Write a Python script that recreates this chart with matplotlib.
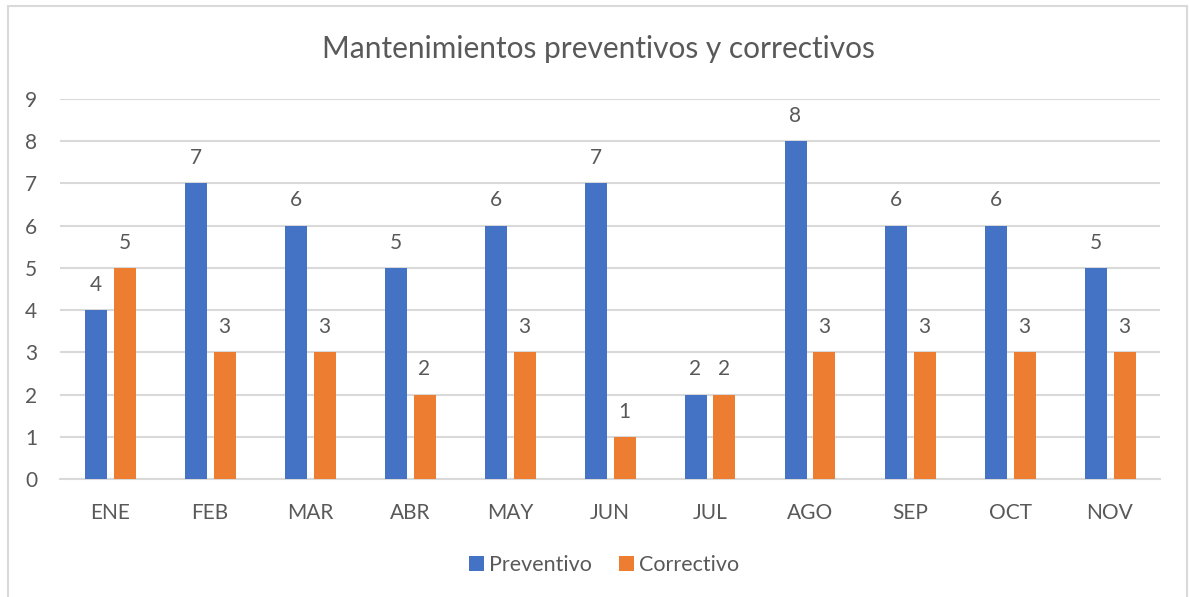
import matplotlib.pyplot as plt
import numpy as np
from matplotlib.patches import Rectangle

# Datos mensuales
meses = ["ENE", "FEB", "MAR", "ABR", "MAY", "JUN", "JUL", "AGO", "SEP", "OCT", "NOV"]
preventivo = [4, 7, 6, 5, 6, 7, 2, 8, 6, 6, 5]
correctivo = [5, 3, 3, 2, 3, 1, 2, 3, 3, 3, 3]

AZUL = "#4472C4"
NARANJA = "#ED7D31"
GRIS_TEXTO = "#595959"
GRIS_LINEA = "#D9D9D9"

plt.rcParams['font.family'] = ['Lato', 'DejaVu Sans']

fig = plt.figure(figsize=(11.89, 5.97), dpi=100)
ax = fig.add_axes([60 / 1189, 1 - 479 / 597, 1100 / 1189, 380 / 597])

x = np.arange(len(meses))
ancho = 0.22
b1 = ax.bar(x - 0.145, preventivo, ancho, color=AZUL, label="Preventivo", zorder=3)
b2 = ax.bar(x + 0.145, correctivo, ancho, color=NARANJA, label="Correctivo", zorder=3)

# etiquetas de valor encima de cada barra
for barras, valores in [(b1, preventivo), (b2, correctivo)]:
    for b, v in zip(barras, valores):
        ax.annotate(str(v), (b.get_x() + b.get_width() / 2, v),
                    xytext=(0, 11), textcoords="offset points",
                    ha="center", va="bottom", fontsize=15, color=GRIS_TEXTO)

ax.set_xlim(-0.5, len(meses) - 0.5)
ax.set_ylim(0, 9)
ax.set_yticks(range(0, 10))
ax.set_xticks(x)
ax.set_xticklabels(meses)
ax.grid(axis="y", color=GRIS_LINEA, linewidth=1.5, zorder=0)
for s in ["top", "right", "left"]:
    ax.spines[s].set_visible(False)
ax.spines["bottom"].set_color(GRIS_LINEA)
ax.spines["bottom"].set_linewidth(1.5)
ax.tick_params(axis="both", length=0, labelsize=15, colors=GRIS_TEXTO)
ax.tick_params(axis="x", pad=17)
ax.tick_params(axis="y", pad=16.5)

fig.text(0.503, 1 - 49 / 597, "Mantenimientos preventivos y correctivos",
         ha="center", va="center", fontsize=21.5, color=GRIS_TEXTO)

ax.legend(loc="center", bbox_to_anchor=(0.508, 1 - 565 / 597), bbox_transform=fig.transFigure,
          ncol=2, frameon=False, fontsize=15.5, labelcolor=GRIS_TEXTO,
          handlelength=0.7, handleheight=0.7, handletextpad=0.2, columnspacing=1.3)

# marco del gráfico
fig.patches.append(Rectangle((8 / 1189, -0.05), 1179 / 1189, 1.05 - 6 / 597,
                             transform=fig.transFigure, fill=False,
                             edgecolor=GRIS_LINEA, linewidth=1.5))

fig.savefig("out.png", dpi=100)
